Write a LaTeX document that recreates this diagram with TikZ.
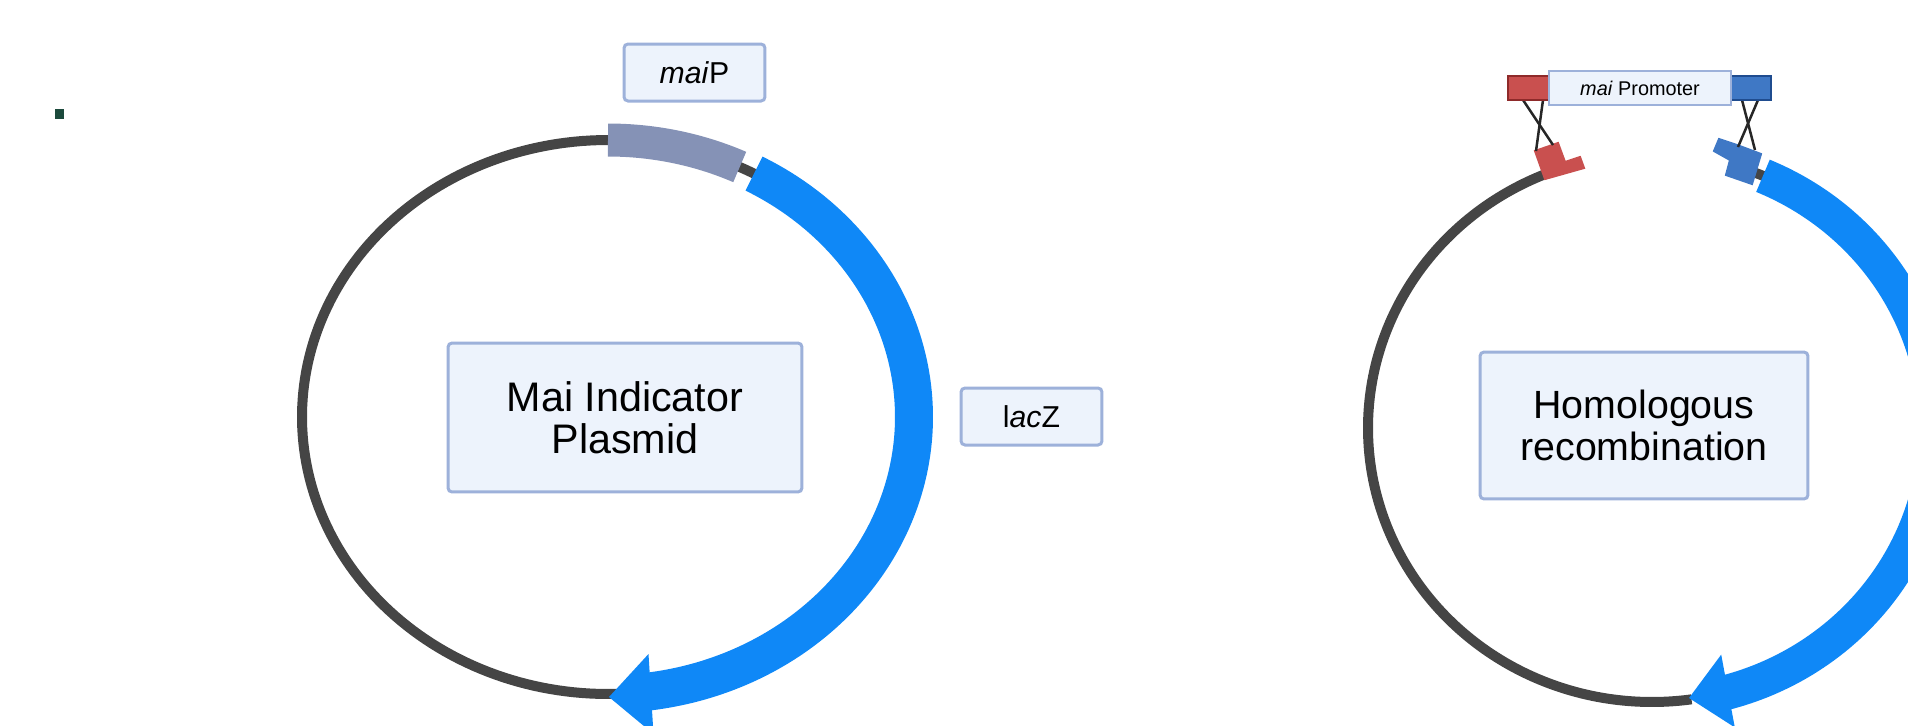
\documentclass[tikz,border=0pt]{standalone}
\usepackage{fontspec}
\setmainfont{Liberation Sans}
\definecolor{darkline}{HTML}{454545}
\definecolor{plasblue}{HTML}{0F88F7}
\definecolor{promgrey}{HTML}{8592B6}
\definecolor{boxfill}{HTML}{EDF3FC}
\definecolor{boxdraw}{HTML}{9DB1DA}
\definecolor{redfill}{HTML}{C9504F}
\definecolor{reddraw}{HTML}{8E2A2A}
\definecolor{bluefill}{HTML}{3F78C5}
\definecolor{bluedraw}{HTML}{1F4C8F}
\definecolor{marker}{HTML}{1C4A3C}
\begin{document}
\begin{tikzpicture}[x=0.02cm,y=-0.02cm,
  labelbox/.style={draw=boxdraw, fill=boxfill, line width=0.06cm, rounded corners=0.08cm, inner sep=0pt, align=center},
  smallbox/.style={labelbox, minimum width=2.82cm, minimum height=1.14cm, font=\fontsize{17.2pt}{19pt}\selectfont},
  bigbox/.style={labelbox},
  backbone/.style={draw=darkline, line width=0.2cm},
  genearc/.style={draw=plasblue, line width=0.76cm},
  genearcR/.style={draw=plasblue, line width=0.70cm},
  promarc/.style={draw=promgrey, line width=0.66cm},
  homol/.style={line width=0.04cm, line join=miter},
  cross/.style={draw=black!85, line width=0.05cm}]
\useasboundingbox (0,0) rectangle (1908,725);

% marker square
\fill[marker] (55,109) rectangle (64,119);

% ---------- left plasmid ----------
\draw[backbone] plot[domain=0:360,samples=240] ({608+306*cos(\x)},{417-277*sin(\x)});
\draw[promarc] plot[domain=90:64.5,samples=40] ({608+306*cos(\x)},{417-277*sin(\x)});
\draw[genearc] plot[domain=61.5:-83,samples=160] ({608+306*cos(\x)},{417-277*sin(\x)});
\coordinate (Ltip) at (609,697);
\coordinate (Lup) at (648.5,654);
\coordinate (Llo) at (653.5,734);
\fill[plasblue] (Ltip) -- (Lup) -- (Llo) -- cycle;

\node[smallbox] (maiP) at (694.5,72.5) {\textit{mai}P};
\node[smallbox] (lacZ) at (1031.5,416.5) {l\textit{ac}Z};
\node[bigbox, minimum width=7.08cm, minimum height=2.98cm, font=\fontsize{23.5pt}{24pt}\selectfont] (plasmid) at (625,417.5) {Mai Indicator\\Plasmid};

% ---------- right plasmid ----------
\draw[backbone] plot[domain=110:278,samples=160] ({1652+284*cos(\x)},{428-274*sin(\x)});
\draw[backbone] plot[domain=74:66,samples=20] ({1652+284*cos(\x)},{428-274*sin(\x)});
\draw[genearcR] plot[domain=67:-76,samples=160] ({1652+284*cos(\x)},{428-274*sin(\x)});
\coordinate (Rtip) at (1689,698);
\coordinate (Rup) at (1721.2,654.6);
\coordinate (Rlo) at (1734.8,727.4);
\fill[plasblue] (Rtip) -- (Rup) -- (Rlo) -- cycle;

% homology arms on the plasmid
\filldraw[homol, fill=redfill, draw=redfill] (1535,151) -- (1558,143) -- (1565,162) -- (1580,157) -- (1584,168) -- (1545,179) -- cycle;
\filldraw[homol, fill=bluefill, draw=bluefill] (1719,139) -- (1737,145) -- (1761,154) -- (1752,184) -- (1726,175) -- (1730,160) -- (1714,151) -- cycle;

% crossover lines
\coordinate (ra1) at (1523,100);
\coordinate (ra2) at (1543,100);
\coordinate (rb1) at (1553,145);
\coordinate (rb2) at (1536,151);
\coordinate (ba1) at (1742,100);
\coordinate (ba2) at (1758,100);
\coordinate (bb1) at (1755,150);
\coordinate (bb2) at (1738,147);
\draw[cross] (ra1) -- (rb1);
\draw[cross] (ra2) -- (rb2);
\draw[cross] (ba1) -- (bb1);
\draw[cross] (ba2) -- (bb2);

% insert fragment
\node[draw=reddraw, fill=redfill, line width=0.03cm, minimum width=0.84cm, minimum height=0.48cm, inner sep=0pt] (redarm) at (1529,88) {};
\node[draw=bluedraw, fill=bluefill, line width=0.03cm, minimum width=0.84cm, minimum height=0.48cm, inner sep=0pt] (bluearm) at (1750,88) {};
\node[draw=boxdraw, fill=boxfill, line width=0.03cm, minimum width=3.64cm, minimum height=0.68cm, inner sep=0pt, font=\fontsize{11.3pt}{13pt}\selectfont] (promoter) at (1640,88) {\textit{mai} Promoter};

\node[bigbox, minimum width=6.56cm, minimum height=2.94cm, font=\fontsize{22.4pt}{24pt}\selectfont] (homrec) at (1644,425.5) {Homologous\\recombination};
\end{tikzpicture}
\end{document}
